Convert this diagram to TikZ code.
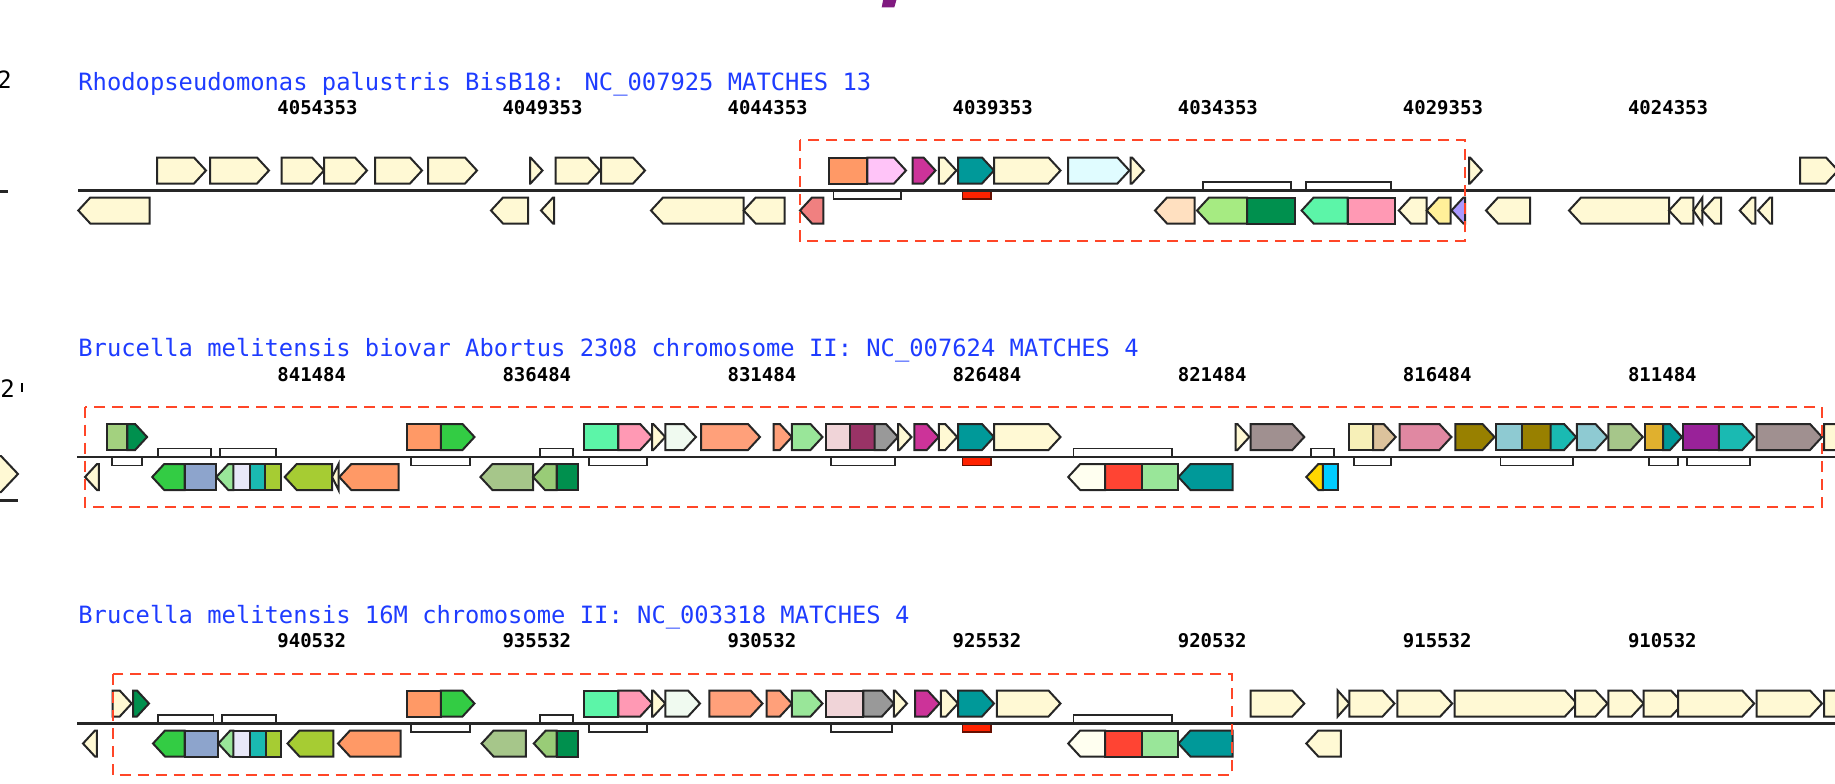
\documentclass[tikz,border=0pt]{standalone}
\usepackage{fontspec}
\usepackage{xcolor}
\usepackage{tikz}
\newfontfamily\monof{DejaVu Sans Mono}
\definecolor{cream}{HTML}{FFF9D4}
\definecolor{orng}{HTML}{FF9966}
\definecolor{lpink}{HTML}{FFC4F8}
\definecolor{magen}{HTML}{CC3399}
\definecolor{dteal}{HTML}{009999}
\definecolor{lcyan}{HTML}{E0FCFF}
\definecolor{coral}{HTML}{F08080}
\definecolor{peach}{HTML}{FFE0C0}
\definecolor{lgreen}{HTML}{A6EB82}
\definecolor{dgreen}{HTML}{00904E}
\definecolor{aqua}{HTML}{5CF5A8}
\definecolor{rose}{HTML}{FF99B4}
\definecolor{lyellow}{HTML}{FFF099}
\definecolor{lviolet}{HTML}{AA99FF}
\definecolor{sage}{HTML}{A6C68A}
\definecolor{bgreen}{HTML}{33CC44}
\definecolor{bluegrey}{HTML}{8DA4CC}
\definecolor{lavender}{HTML}{E8E8F8}
\definecolor{tealb}{HTML}{1ABAB2}
\definecolor{ygreen}{HTML}{A6CC33}
\definecolor{mgreen}{HTML}{99CC77}
\definecolor{olgreen}{HTML}{A3D17F}
\definecolor{ltsalmon}{HTML}{FFA07A}
\definecolor{pgreen}{HTML}{99E699}
\definecolor{mint}{HTML}{F0FAF0}
\definecolor{mistyrose}{HTML}{F0D4D8}
\definecolor{maroonx}{HTML}{993366}
\definecolor{greyx}{HTML}{999999}
\definecolor{ivory}{HTML}{FFFFF0}
\definecolor{tomato}{HTML}{FF4433}
\definecolor{mauve}{HTML}{A09090}
\definecolor{pale}{HTML}{F7F0B8}
\definecolor{tanx}{HTML}{DCC29C}
\definecolor{pinkm}{HTML}{E088A2}
\definecolor{olivex}{HTML}{988000}
\definecolor{lblue}{HTML}{8ECAD2}
\definecolor{goldx}{HTML}{E0B02E}
\definecolor{purplex}{HTML}{992299}
\definecolor{yolk}{HTML}{FFD700}
\definecolor{sky}{HTML}{00CCFF}
\definecolor{hitred}{HTML}{FF2200}
\definecolor{boxred}{HTML}{FF4628}
\definecolor{titleblue}{HTML}{1E3CFF}
\definecolor{slash}{HTML}{801A80}

\begin{document}
\begin{tikzpicture}[x=0.5pt, y=-0.5pt,
  gene/.style={draw=black!85, line width=1pt},
  blk/.style={draw=black!85, line width=0.9pt, fill=white},
  axis/.style={draw=black!85, line width=1.4pt},
  region/.style={draw=boxred, line width=1.2pt, dash pattern=on 5.5pt off 3.5pt},
  title/.style={inner sep=0pt, anchor=base west, text=titleblue, font=\monof\fontsize{11.9}{14}\selectfont},
  tick/.style={inner sep=0pt, anchor=base west, font=\monof\bfseries\fontsize{9.5}{11}\selectfont}]
\useasboundingbox (0,0) rectangle (1835,783);
\clip (0,0) rectangle (1835,783);
\def\fwg#1#2{\foreach \a/\b/\c in {#2}{%
  \pgfmathsetmacro\tp{max(\a,\b-12)}%
  \draw[gene, fill=\c] (\a,#1-33) -- (\tp,#1-33) -- (\b,#1-20) -- (\tp,#1-7) -- (\a,#1-7) -- cycle;}}
\def\rvg#1#2{\foreach \a/\b/\c in {#2}{%
  \pgfmathsetmacro\tp{min(\b,\a+12)}%
  \draw[gene, fill=\c] (\b,#1+7) -- (\tp,#1+7) -- (\a,#1+20) -- (\tp,#1+33) -- (\b,#1+33) -- cycle;}}
\def\fbx#1#2{\foreach \a/\b/\c in {#2}{\draw[gene, fill=\c] (\a,#1-33) rectangle (\b,#1-7);}}
\def\rbx#1#2{\foreach \a/\b/\c in {#2}{\draw[gene, fill=\c] (\a,#1+7) rectangle (\b,#1+33);}}
\def\upb#1#2{\foreach \a/\b in {#2}{\draw[blk] (\a,#1) rectangle (\b,#1-8.5);}}
\def\dnb#1#2{\foreach \a/\b in {#2}{\draw[blk] (\a,#1) rectangle (\b,#1+8.5);}}
\def\La{190.5}
\def\Lb{457}
\def\Lc{723.5}

% cut-off bits of the neighbouring panel
\fill[slash] (883.3,-1) -- (896.7,-1) -- (894.3,7.3) -- (881.7,7.3) -- cycle;
\node[title, anchor=base east, text=black] (frag1) at (12,88) {02};
\draw[axis] (-5,191.5) -- (8,191.5);
\node[tick, font=\monof\fontsize{12}{14}\selectfont] (frag2) at (0,397) {2};
\draw[line width=1pt] (21.5,383) -- (21.5,392);
\draw[gene, fill=cream] (-20,456) -- (1,456) -- (18,474) -- (1,492) -- (-20,492) -- cycle;
\draw[axis] (-5,500.5) -- (18,500.5);

% row 1
\node[title] (t1) at (78,\La-100.5) {Rhodopseudomonas palustris BisB18: NC\_007925 MATCHES 13};
\foreach \n [count=\i from 0] in {4054353,4049353,4044353,4039353,4034353,4029353,4024353}
  \node[tick] (ka\i) at (277+225.1*\i,\La-76) {\n};
\dnb{\La}{833.5/901.3}
\upb{\La}{1203/1290.6, 1306/1390.6}
\draw[blk, fill=hitred, draw=black!60!hitred] (962.5,\La) rectangle (990.6,\La+8.5);
\draw[axis] (78,\La) -- (1835,\La);
\fbx{\La}{828.6/867.4/orng}
\fwg{\La}{157/206/cream, 210/269/cream, 281.5/324/cream, 324/367/cream, 375/422/cream,
  428/477/cream, 530/542.5/cream, 555.5/600/cream, 601/645/cream, 867.4/906/lpink,
  912.7/935.5/magen, 938.8/956.4/cream, 958/994/dteal, 994/1060.5/cream,
  1068/1129.4/lcyan, 1130.7/1144/cream, 1469/1482/cream, 1800/1838/cream}
\rbx{\La}{1247/1295/dgreen, 1347.5/1395.3/rose}
\rvg{\La}{78.3/149.5/cream, 491/528/cream, 541/554/cream, 651/743.7/cream,
  743.7/784.5/cream, 800/823.3/coral, 1155/1194.7/peach, 1197/1247/lgreen,
  1301.6/1347.5/aqua, 1398.8/1426.7/cream, 1426.7/1450.6/lyellow, 1451.4/1465/lviolet,
  1486/1530/cream, 1569/1669/cream, 1669/1693.4/cream, 1693.4/1702.4/cream,
  1702.4/1721/cream, 1739.7/1755.4/cream, 1758/1772/cream}
\draw[region] (800,140) rectangle (1465,240.7);

% row 2
\node[title] (t2) at (78,\Lb-100.5) {Brucella melitensis biovar Abortus 2308 chromosome II: NC\_007624 MATCHES 4};
\foreach \n [count=\i from 0] in {841484,836484,831484,826484,821484,816484,811484}
  \node[tick] (kb\i) at (277+225.1*\i,\Lb-76) {\n};
\dnb{\Lb}{111.9/141.6, 411.2/469.7, 589.1/647, 830.6/894.7, 1354/1390.6,
  1500.4/1573, 1648.7/1678, 1686.7/1750.2}
\upb{\Lb}{158.2/210.7, 220.2/275.6, 539.7/573.3, 1073.5/1172.3, 1311/1333.7}
\draw[blk, fill=hitred, draw=black!60!hitred] (962.5,\Lb) rectangle (990.6,\Lb+8.5);
\draw[axis] (77,\Lb) -- (1835,\Lb);
\fbx{\Lb}{106.8/127.3/olgreen, 407.3/440.9/orng, 584.4/618.4/aqua, 825.7/850.2/mistyrose,
  850.2/874.7/maroonx, 1349.4/1373/pale, 1495.7/1522/lblue, 1522/1550.6/olivex,
  1644.7/1663.2/goldx, 1682.8/1718.9/purplex}
\fwg{\Lb}{127.3/147.1/dgreen, 440.9/474.5/bgreen, 618.4/652.2/rose, 652.2/665.3/cream,
  665.3/695.9/mint, 701.2/760/ltsalmon, 773.5/791.9/ltsalmon, 791.9/822.5/pgreen,
  874.7/898/greyx, 898/911.5/cream, 914.3/938.8/magen, 938.8/957.2/cream, 958/994/dteal,
  994/1060.5/cream, 1235.7/1249.4/cream, 1250.6/1304.3/mauve, 1373/1395.7/tanx,
  1399.6/1451.4/pinkm, 1455.3/1494.5/olivex, 1550.6/1576.1/tealb, 1576.9/1607.5/lblue,
  1608.3/1642.8/sage, 1663.2/1682/dteal, 1718.9/1754.2/tealb, 1756.5/1822/mauve,
  1824/1875/cream}
\rbx{\Lb}{184.7/216.3/bluegrey, 233.3/249.9/lavender, 249.9/264.9/tealb, 264.9/280.7/ygreen,
  556.7/578/dgreen, 1105/1141.7/tomato, 1141.7/1177.6/pgreen, 1322.8/1337.7/sky}
\rvg{\Lb}{85/98.9/cream, 152.2/184.7/bgreen, 216.3/233.3/pgreen, 284.7/332.1/ygreen,
  332.1/338.5/cream, 339.3/398.6/orng, 480.4/533/sage, 533/556.7/mgreen,
  1068.2/1105/ivory, 1178.4/1232.7/dteal, 1306.3/1322.8/yolk}
\draw[region] (85,406.7) rectangle (1822,506.7);

% row 3
\node[title] (t3) at (78,\Lc-100.5) {Brucella melitensis 16M chromosome II: NC\_003318 MATCHES 4};
\foreach \n [count=\i from 0] in {940532,935532,930532,925532,920532,915532,910532}
  \node[tick] (kc\i) at (277+225.1*\i,\Lc-76) {\n};
\dnb{\Lc}{411.2/469.7, 589.1/647, 830.6/891.9}
\upb{\Lc}{158.2/213.5, 222.2/275.6, 539.7/573.3, 1073.5/1172.3}
\draw[blk, fill=hitred, draw=black!60!hitred] (962.5,\Lc) rectangle (990.6,\Lc+8.5);
\draw[axis] (77,\Lc) -- (1835,\Lc);
\fbx{\Lc}{407.3/440.9/orng, 584.4/618.4/aqua, 825.7/863.3/mistyrose}
\fwg{\Lc}{112.7/131.7/cream, 133.2/149/dgreen, 440.9/474.5/bgreen, 618.4/652.2/rose,
  652.2/665.3/cream, 665.3/700/mint, 709.4/762.5/ltsalmon, 766.5/791.9/ltsalmon,
  791.9/822.5/pgreen, 863.3/893.9/greyx, 893.9/907/cream, 915/939.6/magen,
  940.9/958/cream, 958/994/dteal, 996.8/1060.5/cream, 1250.6/1304.3/cream,
  1337.7/1349.4/cream, 1349.4/1394.5/cream, 1397.3/1452.2/cream, 1454.5/1576.9/cream,
  1575/1607.5/cream, 1608.3/1643.6/cream, 1643.6/1683/cream, 1678/1754.2/cream,
  1756.5/1822/cream, 1824/1875/cream}
\rbx{\Lc}{184.7/218.3/bluegrey, 233.3/249.9/lavender, 249.9/265.7/tealb, 265.7/280.7/ygreen,
  556.7/578/dgreen, 1105/1141.7/tomato, 1141.7/1177.6/pgreen}
\rvg{\Lc}{83/96.9/cream, 153/184.7/bgreen, 218.3/233.3/pgreen, 287.5/333.3/ygreen,
  338/400.5/orng, 481.6/525.9/sage, 533.8/556.7/mgreen, 1068.2/1105/ivory,
  1178.4/1232.7/dteal, 1306.3/1340.8/cream}
\draw[region] (112.7,674) rectangle (1232,775);
\end{tikzpicture}
\end{document}
